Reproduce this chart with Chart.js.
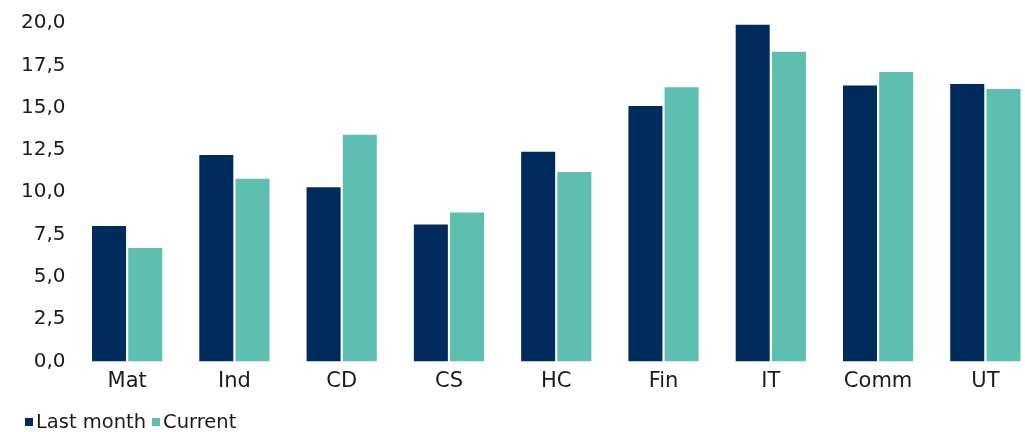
<html><head><meta charset="UTF-8">
<title>Sector chart</title>
<style>
* { margin: 0; padding: 0; box-sizing: border-box; }
body { background: #ffffff; width: 1025px; height: 432px; overflow: hidden; font-family: 'DejaVu Sans', sans-serif; }
.wrap { position: relative; width: 1040px; height: 432px; }
.legend { position: absolute; left: 25px; top: 410px; display: flex; align-items: center; font-size: 19.5px; color: #1b1b1b; white-space: nowrap; }
.legend span.box { display: inline-block; width: 8px; height: 8px; margin-right: 3px; }
.legend .item { display: flex; align-items: center; margin-right: 6px; }
</style>
<script src="https://cdn.jsdelivr.net/npm/chart.js"></script>
</head>
<body>
<div class="wrap">
  <canvas id="chart"></canvas>
  <div class="legend" id="legend"></div>
</div>
<script>
const sectors = ['Mat', 'Ind', 'CD', 'CS', 'HC', 'Fin', 'IT', 'Comm', 'UT'];
const lastMonth = [8.0, 12.2, 10.3, 8.1, 12.4, 15.1, 19.9, 16.3, 16.4];
const current = [6.7, 10.8, 13.4, 8.8, 11.2, 16.2, 18.3, 17.1, 16.1];
const yTickLabels = ['0,0', '2,5', '5,0', '7,5', '10,0', '12,5', '15,0', '17,5', '20,0'];
const seriesNames = ['Last month', 'Current'];
const seriesColors = ['#002c5d', '#5ebfb0'];

const textColor = '#1b1b1b';
const font = "'DejaVu Sans', sans-serif";

const chart = new Chart(document.getElementById('chart'), {
    type: 'bar',
    data: {
        labels: sectors,
        datasets: [
            { label: seriesNames[0], data: lastMonth, backgroundColor: seriesColors[0], borderWidth: 0 },
            { label: seriesNames[1], data: current, backgroundColor: seriesColors[1], borderWidth: 0 }
        ]
    },
    options: {
        responsive: true,
        maintainAspectRatio: false,
        animation: false,
        layout: { padding: { top: 23, bottom: 30.5, left: 0, right: 1 } },
        datasets: { bar: { categoryPercentage: 0.675, barPercentage: 0.94 } },
        plugins: {
            tooltip: { enabled: false },
            legend: { display: false }
        },
        scales: {
            x: {
                grid: { display: false },
                border: { display: false },
                ticks: { color: textColor, font: { family: font, size: 21 }, padding: -1 },
                afterFit: s => { s.height = 40; }
            },
            y: {
                min: 0,
                max: 20,
                grid: { display: false },
                border: { display: false },
                ticks: {
                    stepSize: 2.5,
                    color: textColor,
                    font: { family: font, size: 20 },
                    padding: 0,
                    callback: (v, i) => yTickLabels[i]
                },
                afterFit: s => { s.width = 73.5; }
            }
        }
    }
});

// legend as plain text next to colour squares
const legend = document.getElementById('legend');
chart.data.datasets.forEach(ds => {
    const item = document.createElement('div');
    item.className = 'item';
    item.innerHTML = `<span class="box" style="background:${ds.backgroundColor}"></span>${ds.label}`;
    legend.appendChild(item);
});
</script>
</body></html>
